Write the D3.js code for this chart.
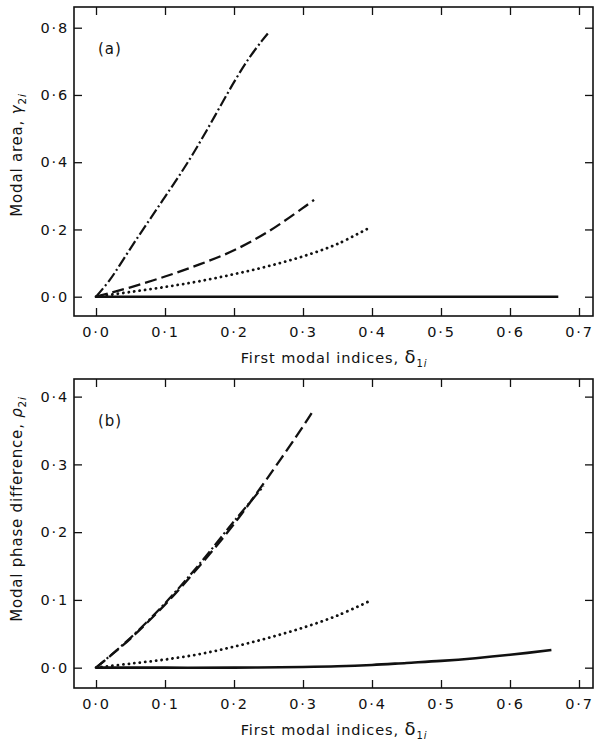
<!DOCTYPE html>
<html>
<head>
<meta charset="utf-8">
<script src="https://cdn.jsdelivr.net/npm/d3@7"></script>
<style>
  html, body { margin: 0; padding: 0; background: #fff; }
  svg text { font-family: "DejaVu Sans", sans-serif; fill: #111; }
</style>
</head>
<body>
<div id="chart"></div>
<script>
// tick values shared by both panels
const xTicks = [0, 0.1, 0.2, 0.3, 0.4, 0.5, 0.6, 0.7];
const yTicksA = [0, 0.2, 0.4, 0.6, 0.8];
const yTicksB = [0, 0.1, 0.2, 0.3, 0.4];

// panel (a): modal area
const aDashDotX = [0, 0.02, 0.04, 0.06, 0.08, 0.10, 0.12, 0.14, 0.16, 0.18, 0.20, 0.22, 0.24, 0.249];
const aDashDotY = [0, 0.05, 0.112, 0.175, 0.236, 0.297, 0.358, 0.423, 0.493, 0.566, 0.638, 0.704, 0.76, 0.783];
const aDashX = [0, 0.02, 0.05, 0.1, 0.15, 0.2, 0.25, 0.3, 0.316];
const aDashY = [0, 0.011, 0.028, 0.06, 0.096, 0.138, 0.194, 0.264, 0.288];
const aDotX = [0, 0.05, 0.1, 0.15, 0.2, 0.25, 0.3, 0.35, 0.398];
const aDotY = [0, 0.014, 0.029, 0.046, 0.067, 0.091, 0.12, 0.157, 0.207];
const aSolidX = [0, 0.2, 0.4, 0.6, 0.67];
const aSolidY = [0, 0, 0, 0, 0];

// panel (b): modal phase difference
const bDashX = [0, 0.025, 0.05, 0.1, 0.15, 0.2, 0.25, 0.3, 0.314];
const bDashY = [0, 0.021, 0.043, 0.093, 0.15, 0.212, 0.282, 0.356, 0.378];
const bDashDotX = [0, 0.05, 0.1, 0.15, 0.2, 0.243];
const bDashDotY = [0, 0.044, 0.095, 0.153, 0.216, 0.268];
const bDotX = [0, 0.05, 0.1, 0.15, 0.2, 0.25, 0.3, 0.35, 0.398];
const bDotY = [0, 0.006, 0.012, 0.02, 0.031, 0.044, 0.059, 0.077, 0.099];
const bSolidX = [0, 0.1, 0.2, 0.3, 0.35, 0.4, 0.45, 0.5, 0.55, 0.6, 0.66];
const bSolidY = [0, 0, 0, 0.001, 0.002, 0.004, 0.007, 0.01, 0.014, 0.019, 0.026];

const W = 594, H = 745;
const LEFT = 74, RIGHT = 593;
const TICK = 8;

const STYLES = {
  dashdot: { width: 2.2, dash: "11 3 2 3", cap: "butt" },
  dash: { width: 2.3, dash: "12 5", cap: "butt" },
  dot: { width: 2.8, dash: "0.1 5.4", cap: "round" },
  solid: { width: 2.6, dash: null, cap: "butt" },
};

const zip = (xs, ys) => xs.map((x, i) => ({ x, y: ys[i] }));
const fmt = (v) => d3.format(".1f")(v).replace(".", "\u00b7");

const svg = d3
  .select("#chart")
  .append("svg")
  .attr("width", W)
  .attr("height", H)
  .attr("viewBox", `0 0 ${W} ${H}`);

function drawPanel({ top, bottom, yDomain, yTicks, series, tag, yTitle, yTitleY }) {
  const x = d3.scaleLinear().domain([-0.0319, 0.7203]).range([LEFT, RIGHT]);
  const y = d3.scaleLinear().domain(yDomain).range([bottom, top]);
  const g = svg.append("g");

  const line = d3
    .line()
    .x((d) => x(d.x))
    .y((d) => y(d.y))
    .curve(d3.curveCatmullRom.alpha(0.5));

  series.forEach((s) => {
    const st = STYLES[s.style];
    g.append("path")
      .datum(zip(s.xs, s.ys))
      .attr("fill", "none")
      .attr("stroke", "#111")
      .attr("stroke-width", st.width)
      .attr("stroke-linecap", st.cap)
      .attr("stroke-dasharray", st.dash)
      .attr("d", line);
  });

  // ticks point inward on every side
  const axisStyle = (sel) => {
    sel.select(".domain").remove();
    sel.selectAll(".tick line").attr("stroke", "#111").attr("stroke-width", 1.3);
  };
  const labelStyle = (sel) =>
    sel.selectAll(".tick text")
      .attr("font-size", 14.5)
      .attr("letter-spacing", 1.8)
      .attr("fill", "#111");

  g.append("g")
    .attr("transform", `translate(0,${bottom})`)
    .call(d3.axisBottom(x).tickValues(xTicks).tickSizeInner(-TICK).tickSizeOuter(0).tickPadding(11).tickFormat(fmt))
    .call(axisStyle)
    .call(labelStyle);

  g.append("g")
    .attr("transform", `translate(0,${top})`)
    .call(d3.axisTop(x).tickValues(xTicks).tickSizeInner(-TICK).tickSizeOuter(0).tickFormat(""))
    .call(axisStyle);

  g.append("g")
    .attr("transform", `translate(${LEFT},0)`)
    .call(d3.axisLeft(y).tickValues(yTicks).tickSizeInner(-TICK).tickSizeOuter(0).tickPadding(5).tickFormat(fmt))
    .call(axisStyle)
    .call(labelStyle);

  g.append("g")
    .attr("transform", `translate(${RIGHT},0)`)
    .call(d3.axisRight(y).tickValues(yTicks).tickSizeInner(-TICK).tickSizeOuter(0).tickFormat(""))
    .call(axisStyle);

  g.append("rect")
    .attr("x", LEFT)
    .attr("y", top)
    .attr("width", RIGHT - LEFT)
    .attr("height", bottom - top)
    .attr("fill", "none")
    .attr("stroke", "#111")
    .attr("stroke-width", 1.6);

  g.append("text")
    .attr("x", 98)
    .attr("y", top + 47)
    .attr("font-size", 15)
    .attr("letter-spacing", 1)
    .text(tag);

  // x title: First modal indices, δ1i
  const xt = g.append("text")
    .attr("x", 334)
    .attr("y", bottom + 47)
    .attr("text-anchor", "middle")
    .attr("font-size", 14.5)
    .attr("letter-spacing", 0.9);
  xt.append("tspan").text("First modal indices, ");
  xt.append("tspan").attr("font-size", 18).text("\u03b4");
  xt.append("tspan").attr("font-size", 10).attr("dy", 4).text("1");
  xt.append("tspan").attr("font-size", 10).attr("font-style", "italic").text("i");

  // y title, rotated
  const yt = g.append("text")
    .attr("transform", `translate(22,${yTitleY}) rotate(-90)`)
    .attr("text-anchor", "middle")
    .attr("font-size", 15)
    .attr("letter-spacing", 0.8);
  yt.append("tspan").text(yTitle.main);
  yt.append("tspan").attr("font-style", "italic").text(yTitle.sym);
  yt.append("tspan").attr("font-size", 10.5).attr("dy", 4).text("2");
  yt.append("tspan").attr("font-size", 10.5).attr("font-style", "italic").text("i");
}

drawPanel({
  top: 7,
  bottom: 316,
  yDomain: [-0.0574, 0.8616],
  yTicks: yTicksA,
  tag: "(a)",
  yTitle: { main: "Modal area, ", sym: "\u03b3" },
  yTitleY: 155,
  series: [
    { xs: aSolidX, ys: aSolidY, style: "solid" },
    { xs: aDotX, ys: aDotY, style: "dot" },
    { xs: aDashX, ys: aDashY, style: "dash" },
    { xs: aDashDotX, ys: aDashDotY, style: "dashdot" },
  ],
});

drawPanel({
  top: 379,
  bottom: 688,
  yDomain: [-0.03, 0.426],
  yTicks: yTicksB,
  tag: "(b)",
  yTitle: { main: "Modal phase difference, ", sym: "\u03c1" },
  yTitleY: 509,
  series: [
    { xs: bSolidX, ys: bSolidY, style: "solid" },
    { xs: bDotX, ys: bDotY, style: "dot" },
    { xs: bDashX, ys: bDashY, style: "dash" },
    { xs: bDashDotX, ys: bDashDotY, style: "dashdot" },
  ],
});
</script>
</body>
</html>
